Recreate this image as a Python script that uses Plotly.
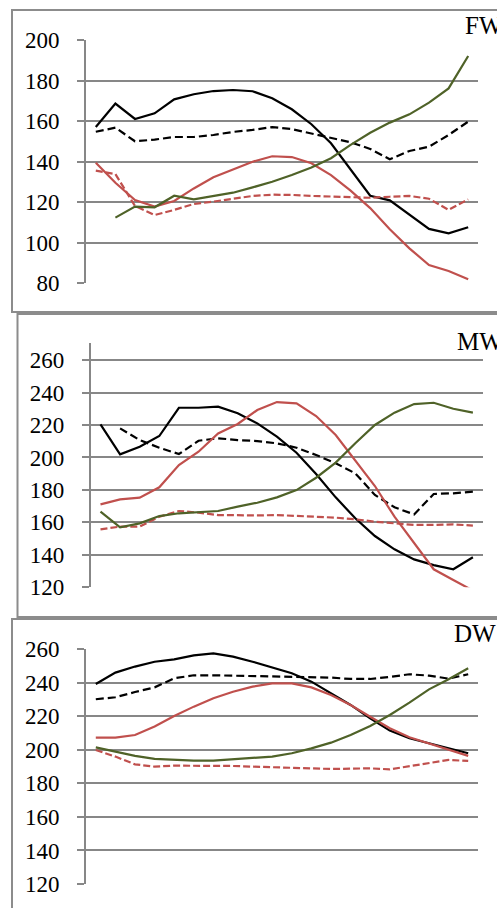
import plotly.graph_objects as go

W, H = 497, 908
categories = list(range(1, 21))

# ---- FW panel ----
fw_black = [157, 168.6, 161.0, 163.8, 170.7, 173.2, 174.8, 175.3, 174.7, 171.2,
            165.8, 158.4, 149.0, 135.8, 123.1, 120.8, 113.6, 106.7, 104.5, 107.5]
fw_black_dash = [154.7, 156.7, 150.0, 150.8, 152.1, 152.1, 153.1, 154.6, 155.6, 157.0,
                 156.0, 153.9, 151.8, 149.5, 146.2, 141.1, 145.2, 147.3, 153.1, 159.7]
fw_red = [139.4, 129.5, 121.0, 117.7, 120.5, 126.7, 132.2, 136.1, 139.9, 142.6,
          142.2, 139.1, 133.3, 125.6, 117.0, 106.5, 97.1, 88.9, 85.9, 81.8]
fw_red_dash = [135.5, 133.8, 118.0, 113.6, 116.1, 119.0, 120.2, 121.5, 123.0, 123.6,
               123.5, 123.0, 122.6, 122.3, 122.1, 122.6, 123.0, 121.6, 116.1, 121.3]
fw_green = [None, 112.3, 117.7, 117.4, 123.1, 121.3, 123.1, 124.6, 127.2, 130.0,
            133.3, 137.0, 141.6, 148.2, 154.2, 159.2, 163.3, 169.1, 176.1, 192.1]

# ---- MW panel ----
mw_black = [220.4, 201.9, 206.6, 213.2, 230.6, 230.6, 231.3, 227.2, 221.0, 212.8,
            202.9, 189.8, 175.4, 162.5, 151.6, 143.4, 137.2, 133.7, 131.1, 138.5]
mw_black_dash = [None, 217.9, 210.7, 206.0, 202.1, 210.3, 211.8, 210.7, 210.1, 208.7,
                 206.0, 201.5, 196.4, 190.2, 176.9, 169.3, 164.9, 177.5, 177.9, 178.9]
mw_red = [171.1, 174.2, 175.2, 181.6, 195.3, 203.5, 214.8, 220.6, 229.2, 234.1,
          233.3, 225.5, 213.8, 198.4, 182.4, 163.5, 147.1, 131.1, 124.5, 118.0]
mw_red_dash = [155.7, 157.4, 157.4, 163.5, 167.0, 166.0, 164.5, 164.3, 164.3, 164.5,
               164.1, 163.5, 162.9, 161.9, 160.4, 159.4, 158.4, 158.4, 158.8, 158.0]
mw_green = [166.6, 156.9, 159.4, 163.9, 165.6, 166.2, 167.0, 169.7, 172.1, 175.4,
            179.9, 187.5, 196.8, 208.7, 220.0, 227.6, 232.9, 233.7, 230.0, 227.6]

# ---- DW panel ----
dw_black = [239.3, 246.1, 249.7, 252.6, 254.0, 256.4, 257.6, 255.6, 252.6, 249.3,
            245.7, 240.7, 233.7, 226.8, 218.8, 211.5, 206.9, 203.9, 200.9, 198.0]
dw_black_dash = [230.2, 231.4, 234.5, 237.3, 242.7, 244.5, 244.5, 244.3, 244.1, 243.9,
                 243.7, 243.3, 243.1, 242.3, 242.3, 243.5, 245.1, 244.3, 242.5, 245.1]
dw_red = [207.3, 207.3, 208.9, 213.9, 220.2, 225.8, 230.8, 234.7, 237.7, 239.7,
          239.7, 237.3, 232.8, 226.8, 219.8, 212.9, 207.5, 203.9, 199.9, 196.4]
dw_red_dash = [199.9, 196.0, 191.4, 190.0, 190.6, 190.6, 190.6, 190.4, 190.0, 189.6,
               189.0, 188.6, 188.6, 188.8, 189.0, 188.4, 190.4, 192.4, 194.0, 193.4]
dw_green = [201.5, 199.0, 196.4, 194.6, 194.0, 193.6, 193.6, 194.4, 195.0, 196.0,
            198.0, 200.9, 204.3, 208.9, 214.3, 220.8, 228.2, 236.1, 242.1, 248.7]

panel_titles = ["FW", "MW", "DW"]
fw_ticks = [80, 100, 120, 140, 160, 180, 200]
mw_ticks = [120, 140, 160, 180, 200, 220, 240, 260]
dw_ticks = [120, 140, 160, 180, 200, 220, 240, 260]

BLACK = "#000000"
RED = "#C0504D"
GREEN = "#4F6228"
GRID = "#878787"
FONT = "Liberation Serif"


def px(x):
    return x / W


def py(y):
    return 1 - y / H


panels = [
    dict(series=[fw_black, fw_black_dash, fw_red, fw_red_dash, fw_green], ticks=fw_ticks,
         rng=[80, 200], xdom=[86, 478], ydom=[283, 40]),
    dict(series=[mw_black, mw_black_dash, mw_red, mw_red_dash, mw_green], ticks=mw_ticks,
         rng=[120, 270.5], xdom=[90.7, 482.7], ydom=[587.3, 343]),
    dict(series=[dw_black, dw_black_dash, dw_red, dw_red_dash, dw_green], ticks=dw_ticks,
         rng=[120, 260], xdom=[86, 478], ydom=[884, 649.3]),
]
styles = [(BLACK, "solid"), (BLACK, "8px,4px"), (RED, "solid"), (RED, "7px,3px"), (GREEN, "solid")]

fig = go.Figure()
layout = {}
for i, p in enumerate(panels):
    n = "" if i == 0 else str(i + 1)
    for vals, (col, dash) in zip(p["series"], styles):
        fig.add_trace(go.Scatter(x=categories, y=vals, mode="lines",
                                 line=dict(color=col, width=2.2, dash=dash),
                                 xaxis="x" + n, yaxis="y" + n, showlegend=False,
                                 connectgaps=False))
    layout["xaxis" + n] = dict(domain=[px(p["xdom"][0]), px(p["xdom"][1])],
                               range=[0.5, 20.5], showgrid=False, zeroline=False,
                               showticklabels=False, ticks="", showline=False,
                               automargin=False, anchor="y" + n, fixedrange=True)
    layout["yaxis" + n] = dict(domain=[py(p["ydom"][0]), py(p["ydom"][1])],
                               range=p["rng"], tickvals=p["ticks"],
                               showgrid=True, gridcolor=GRID, gridwidth=1.6,
                               zeroline=False, showline=True, linecolor=GRID, linewidth=1.6,
                               ticks="outside", ticklen=7, tickcolor=GRID, tickwidth=1.6,
                               ticklabelstandoff=13, automargin=False,
                               tickfont=dict(family=FONT, size=23, color="#000"),
                               anchor="x" + n, fixedrange=True)

shapes = []
boxes = [(12, 10, 520, 312), (17.5, 314, 520, 617), (12, 619, 520, 930)]
for x0, y0, x1, y1 in boxes:
    shapes.append(dict(type="rect", xref="paper", yref="paper",
                       x0=px(x0), x1=px(x1), y0=py(y1), y1=py(y0),
                       line=dict(color="#8C8C8C", width=2), fillcolor="rgba(0,0,0,0)",
                       layer="below"))

annots = []
title_pos = [(463, 25), (455, 342), (452, 633.5)]
for t, (x, y) in zip(panel_titles, title_pos):
    annots.append(dict(text=t, xref="paper", yref="paper", x=px(x), y=py(y),
                       xanchor="left", yanchor="middle", showarrow=False,
                       font=dict(family=FONT, size=25, color="#000")))

fig.update_layout(width=W, height=H,
                  margin=dict(l=0, r=0, t=0, b=0, pad=0, autoexpand=False),
                  paper_bgcolor="white", plot_bgcolor="white",
                  shapes=shapes, annotations=annots, **layout)

fig.write_html("out.html", config={"displayModeBar": False},
               post_script="document.body.style.margin='0';document.body.style.overflow='hidden';")
